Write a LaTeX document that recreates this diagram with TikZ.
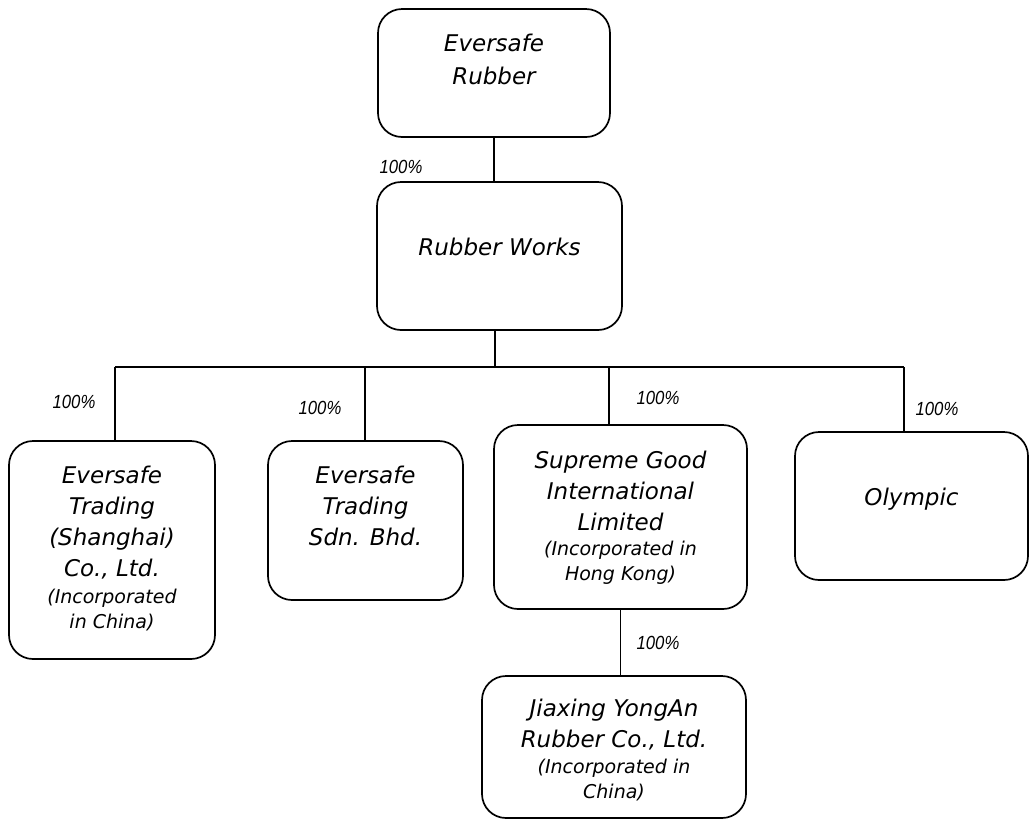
\documentclass[tikz,border=0pt]{standalone}
\usepackage{fontspec}
\setmainfont{DejaVu Sans}
\newfontfamily\lblfont{Liberation Sans}[FakeStretch=0.88]
\newcommand{\mainf}{\fontsize{23}{31}\selectfont\itshape}
\newcommand{\mainfb}{\fontsize{23}{33}\selectfont\itshape}
\newcommand{\smallf}{\fontsize{19}{24.5}\selectfont\itshape}
\newcommand{\btxt}[4]{\parbox[c][#1pt][t]{#2pt}{\centering\rule{0pt}{#3pt}#4\par}}
\begin{document}
\begin{tikzpicture}[x=1pt,y=-1pt,
  orgbox/.style={draw, line width=1.7pt, rounded corners=24pt, inner sep=0pt, outer sep=0pt},
  link/.style={line width=1.3pt},
  pct/.style={font={\lblfont\itshape\fontsize{19}{20}\selectfont}, inner sep=0pt}]
\fill[white] (0,0) rectangle (1029,820);
\useasboundingbox (0,0) rectangle (1029,820);

\node[orgbox] (b1) at (494,73) {\btxt{128}{232}{42}{\mainfb Eversafe\\Rubber}};
\node[orgbox] (b2) at (499.5,256) {\btxt{148}{245}{73}{\mainf Rubber Works}};
\node[orgbox] (b3) at (112,550) {\btxt{218}{206}{42}{\mainf Eversafe\\Trading\\(Shanghai)\\Co., Ltd.\par\vspace{3pt}\smallf (Incorporated\\in China)}};
\node[orgbox] (b4) at (365.5,520.5) {\btxt{159}{195}{42}{\mainf Eversafe\\Trading\\Sdn. Bhd.}};
\node[orgbox] (b5) at (620.5,517) {\btxt{184}{253}{43}{\mainf Supreme Good\\International\\Limited\par\vspace{1pt}\smallf (Incorporated in\\Hong Kong)}};
\node[orgbox] (b6) at (911.5,506) {\btxt{148}{233}{73}{\mainf Olympic}};
\node[orgbox] (b7) at (614,747) {\btxt{142}{264}{40}{\mainf Jiaxing YongAn\\Rubber Co., Ltd.\par\vspace{2pt}\smallf (Incorporated in\\China)}};

\coordinate (jt) at (495,367);
\coordinate (j1) at (115,367);
\coordinate (j2) at (365,367);
\coordinate (j3) at (609,367);
\coordinate (j4) at (904,367);

\draw[link] (b1.south) -- (b1.south |- b2.north);
\draw[link] (jt |- b2.south) -- (jt);
\draw[link] (j1) -- (j4);
\draw[link] (j1) -- (j1 |- b3.north);
\draw[link] (j2) -- (j2 |- b4.north);
\draw[link] (j3) -- (j3 |- b5.north);
\draw[link] (j4) -- (j4 |- b6.north);
\draw[link] (b5.south) -- (b5.south |- b7.north);

\node[pct] (p0) at (401,167) {100\%};
\node[pct] (p1) at (74,402) {100\%};
\node[pct] (p2) at (320,408) {100\%};
\node[pct] (p3) at (658,398) {100\%};
\node[pct] (p4) at (937,409) {100\%};
\node[pct] (p5) at (658,643) {100\%};
\end{tikzpicture}
\end{document}
